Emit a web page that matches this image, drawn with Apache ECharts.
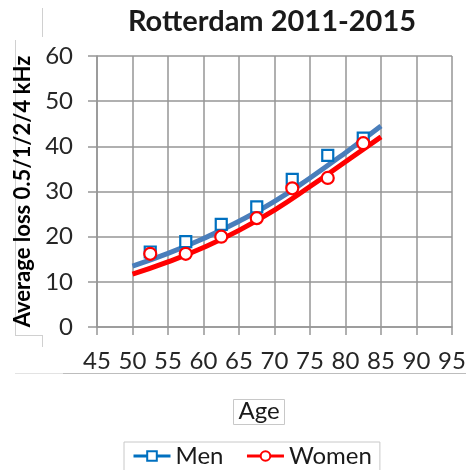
<!DOCTYPE html>
<html>
<head>
<meta charset="utf-8">
<script src="https://cdn.jsdelivr.net/npm/echarts@6/dist/echarts.min.js"></script>
<style>
html,body{margin:0;padding:0;background:#fff;}
#c{width:469px;height:470px;}
</style>
</head>
<body>
<div id="c"></div>
<script>
// Data
var ages = [52.5, 57.5, 62.5, 67.5, 72.5, 77.5, 82.5];
var menValues = [16.6, 18.9, 22.7, 26.6, 32.7, 38.0, 41.8];
var womenValues = [16.2, 16.2, 20.0, 24.1, 30.7, 33.0, 40.7];
var trendAges = [50, 55, 60, 65, 70, 75, 80, 85];
var menTrend = [13.5, 16.3, 19.6, 23.4, 27.8, 33.0, 38.6, 44.5];
var womenTrend = [11.7, 14.4, 17.6, 21.4, 25.9, 31.1, 36.6, 42.1];
var xTicks = [45, 50, 55, 60, 65, 70, 75, 80, 85, 90, 95];
var yTicks = [0, 10, 20, 30, 40, 50, 60];

function pairs(xs, ys) { return xs.map(function (x, i) { return [x, ys[i]]; }); }

var FONT = 'Lato';
var chart = echarts.init(document.getElementById('c'), null, {renderer: 'canvas'});
var gridColor = '#969696';
chart.setOption({
  animation: false,
  backgroundColor: '#fff',
  textStyle: {fontFamily: FONT},
  title: [
    {text: 'Rotterdam 2011-2015', left: 267, textAlign: 'center', top: 2,
     textStyle: {fontFamily: FONT, fontSize: 29, fontWeight: 'bold', color: '#1a1a1a'}},
    {text: 'Age', left: 254, textAlign: 'center', top: 399,
     padding: [0, 5, 2, 5], borderColor: '#c8c8c8', borderWidth: 1,
     textStyle: {fontFamily: FONT, fontSize: 24, fontWeight: 'normal', color: '#1a1a1a'}}
  ],
  legend: {
    left: 124, top: 442,
    padding: [2, 8, 6, 8],
    borderColor: '#c8c8c8', borderWidth: 1,
    itemWidth: 37, itemHeight: 12, itemGap: 22,
    textStyle: {fontFamily: FONT, fontSize: 24, color: '#1a1a1a'},
    data: [
      {name: 'Men', lineStyle: {color: '#0070C0', width: 3, opacity: 1}},
      {name: 'Women', lineStyle: {color: '#FF0000', width: 3, opacity: 1}}
    ]
  },
  grid: {left: 97, right: 17, top: 56, bottom: 143, containLabel: false},
  xAxis: {
    type: 'value', min: 45, max: 95, interval: 5,
    axisLine: {show: true, lineStyle: {color: gridColor, width: 1.5}},
    axisTick: {show: true, length: 8, inside: false, lineStyle: {color: gridColor, width: 1.5}},
    splitLine: {show: true, lineStyle: {color: gridColor, width: 1.5}},
    axisLabel: {margin: 22, fontFamily: FONT, fontSize: 24, color: '#262626',
      customValues: xTicks, formatter: function (v) { return String(v); }}
  },
  yAxis: {
    type: 'value', min: 0, max: 60, interval: 10,
    name: 'Average loss 0.5/1/2/4 kHz', nameLocation: 'middle', nameGap: 62,
    nameTextStyle: {fontFamily: FONT, fontSize: 22, fontWeight: 'bold', color: '#000'},
    axisLine: {show: true, lineStyle: {color: gridColor, width: 1.5}},
    axisTick: {show: true, length: 9, inside: false, lineStyle: {color: gridColor, width: 1.5}},
    splitLine: {show: true, lineStyle: {color: gridColor, width: 1.5}},
    axisLabel: {margin: 24, fontFamily: FONT, fontSize: 24, color: '#262626',
      customValues: yTicks, formatter: function (v) { return String(v); }}
  },
  series: [
    {name: 'Men trend', type: 'line', data: pairs(trendAges, menTrend), smooth: true,
     showSymbol: false, symbol: 'none', lineStyle: {color: '#4A7EBB', width: 5}, z: 2, silent: true},
    {name: 'Women trend', type: 'line', data: pairs(trendAges, womenTrend), smooth: true,
     showSymbol: false, symbol: 'none', lineStyle: {color: '#FF0000', width: 5}, z: 2, silent: true},
    {name: 'Men', type: 'line', data: pairs(ages, menValues), symbol: 'rect', symbolSize: 11,
     showSymbol: true, lineStyle: {width: 0, opacity: 0}, color: '#0070C0',
     itemStyle: {color: '#fff', borderColor: '#0070C0', borderWidth: 2.2}, z: 3},
    {name: 'Women', type: 'line', data: pairs(ages, womenValues), symbol: 'circle', symbolSize: 12,
     showSymbol: true, lineStyle: {width: 0, opacity: 0}, color: '#FF0000',
     itemStyle: {color: '#fff', borderColor: '#FF0000', borderWidth: 2.2}, z: 4}
  ],
  graphic: [
    {type: 'line', shape: {x1: 63, y1: 373.5, x2: 466, y2: 373.5}, style: {stroke: '#bdbdbd', lineWidth: 1}, silent: true},
    {type: 'line', shape: {x1: 15, y1: 373.5, x2: 63, y2: 373.5}, style: {stroke: '#e3e3e3', lineWidth: 1}, silent: true},
    {type: 'line', shape: {x1: 15.5, y1: 40, x2: 15.5, y2: 335}, style: {stroke: '#d0d0d0', lineWidth: 1}, silent: true},
    {type: 'line', shape: {x1: 15, y1: 335.5, x2: 43, y2: 335.5}, style: {stroke: '#d0d0d0', lineWidth: 1}, silent: true},
    {type: 'line', shape: {x1: 42.5, y1: 335, x2: 42.5, y2: 347}, style: {stroke: '#d0d0d0', lineWidth: 1}, silent: true},
    {type: 'line', shape: {x1: 42.5, y1: 8, x2: 42.5, y2: 37}, style: {stroke: '#d0d0d0', lineWidth: 1}, silent: true}
  ]
});
</script>
</body>
</html>
